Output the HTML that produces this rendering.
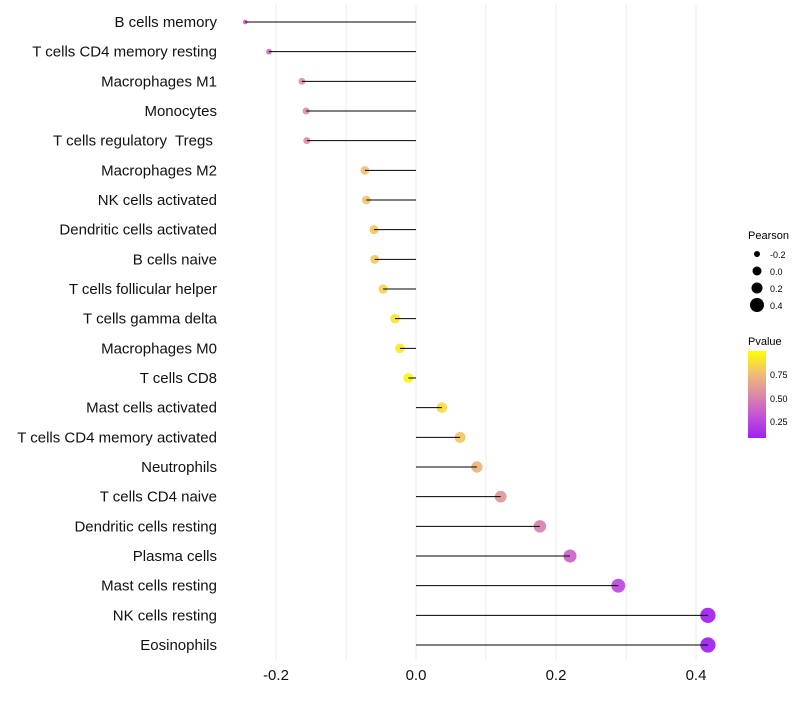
<!DOCTYPE html>
<html><head><meta charset="utf-8"><style>
body{margin:0;background:#fff;font-family:"Liberation Sans",sans-serif}
text{white-space:pre}
</style></head><body>
<svg id="chart" width="800" height="700">
<defs>
<linearGradient id="pg" x1="0" y1="1" x2="0" y2="0">
<stop offset="0" stop-color="#a020f0"/>
<stop offset="0.25" stop-color="#c352d8"/>
<stop offset="0.5" stop-color="#dc8aa6"/>
<stop offset="0.75" stop-color="#f0c070"/>
<stop offset="1" stop-color="#ffff00"/>
</linearGradient>
</defs>
<g id="grid"></g><g id="marks"></g><g id="labels"></g>
<g font-size="10">
<text x="748" y="239" font-size="11">Pearson</text>
<circle cx="757" cy="254" r="3"/><text x="770" y="258" font-size="9">-0.2</text>
<circle cx="757" cy="271" r="4.5"/><text x="770" y="275" font-size="9">0.0</text>
<circle cx="757" cy="288" r="5.5"/><text x="770" y="292" font-size="9">0.2</text>
<circle cx="757" cy="305" r="7"/><text x="770" y="309" font-size="9">0.4</text>
</g>
<g>
<text x="748" y="345" font-size="11">Pvalue</text>
<rect x="748" y="351" width="18" height="87" fill="url(#pg)"/>
<text x="770" y="378" font-size="9">0.75</text>
<text x="770" y="402" font-size="9">0.50</text>
<text x="770" y="425" font-size="9">0.25</text>
</g>
</svg>
<script>
const categories=["B cells memory","T cells CD4 memory resting","Macrophages M1","Monocytes","T cells regulatory  Tregs ","Macrophages M2","NK cells activated","Dendritic cells activated","B cells naive","T cells follicular helper","T cells gamma delta","Macrophages M0","T cells CD8","Mast cells activated","T cells CD4 memory activated","Neutrophils","T cells CD4 naive","Dendritic cells resting","Plasma cells","Mast cells resting","NK cells resting","Eosinophils"];
const pearson=[-0.244,-0.21,-0.163,-0.157,-0.156,-0.073,-0.071,-0.06,-0.059,-0.047,-0.03,-0.023,-0.011,0.037,0.063,0.087,0.121,0.177,0.22,0.289,0.417,0.417];
const pvalue=[0.38,0.43,0.57,0.56,0.56,0.77,0.78,0.8,0.8,0.84,0.9,0.92,0.96,0.87,0.8,0.72,0.6,0.5,0.38,0.27,0.06,0.06];
const ticks=[-0.2,0,0.2,0.4];
const tickLabels=["-0.2","0.0","0.2","0.4"];
const NS="http://www.w3.org/2000/svg";
const x=v=>416+v*700;
const y=i=>22+i*(623/21);
const rad=v=>Math.sqrt(Math.max(4,25+80*v));
function mix(a,b,t){const pa=[1,3,5].map(k=>parseInt(a.substr(k,2),16)),pb=[1,3,5].map(k=>parseInt(b.substr(k,2),16));return "rgb("+pa.map((c,k)=>Math.round(c+(pb[k]-c)*t)).join(",")+")";}
const stops=[[0,"#a020f0"],[0.25,"#c352d8"],[0.5,"#dc8aa6"],[0.75,"#f0c070"],[1,"#ffff00"]];
function col(p){let t=(p-0.08)/(1.0-0.08);t=Math.max(0,Math.min(1,t));for(let k=1;k<stops.length;k++){if(t<=stops[k][0]){const a=stops[k-1],b=stops[k];return mix(a[1],b[1],(t-a[0])/(b[0]-a[0]));}}return "#ffff00";}
function mk(tag,attrs,parent){const e=document.createElementNS(NS,tag);for(const k in attrs)e.setAttribute(k,attrs[k]);parent.appendChild(e);return e;}
const grid=document.getElementById("grid"),marks=document.getElementById("marks"),labels=document.getElementById("labels");
for(let v=-0.2;v<=0.41;v+=0.1){const g=mk("line",{x1:x(v),x2:x(v),y1:5,y2:660,stroke:"#ebebeb","stroke-width":1},grid);

}
ticks.forEach((t,i)=>{const e=mk("text",{x:x(t),y:680,"text-anchor":"middle","font-size":15,fill:"#111"},labels);e.textContent=tickLabels[i];

});
categories.forEach((c,i)=>{
const t=mk("text",{x:217,y:y(i)+5,"text-anchor":"end","font-size":15,fill:"#111"},labels);t.textContent=c;


const p=mk("circle",{cx:x(pearson[i]),cy:y(i),r:rad(pearson[i]),fill:col(pvalue[i]),"fill-opacity":0.92},marks);


const l=mk("line",{x1:x(0),x2:x(pearson[i]),y1:y(i),y2:y(i),stroke:"#000","stroke-width":1},marks);


});
</script>
</body></html>
